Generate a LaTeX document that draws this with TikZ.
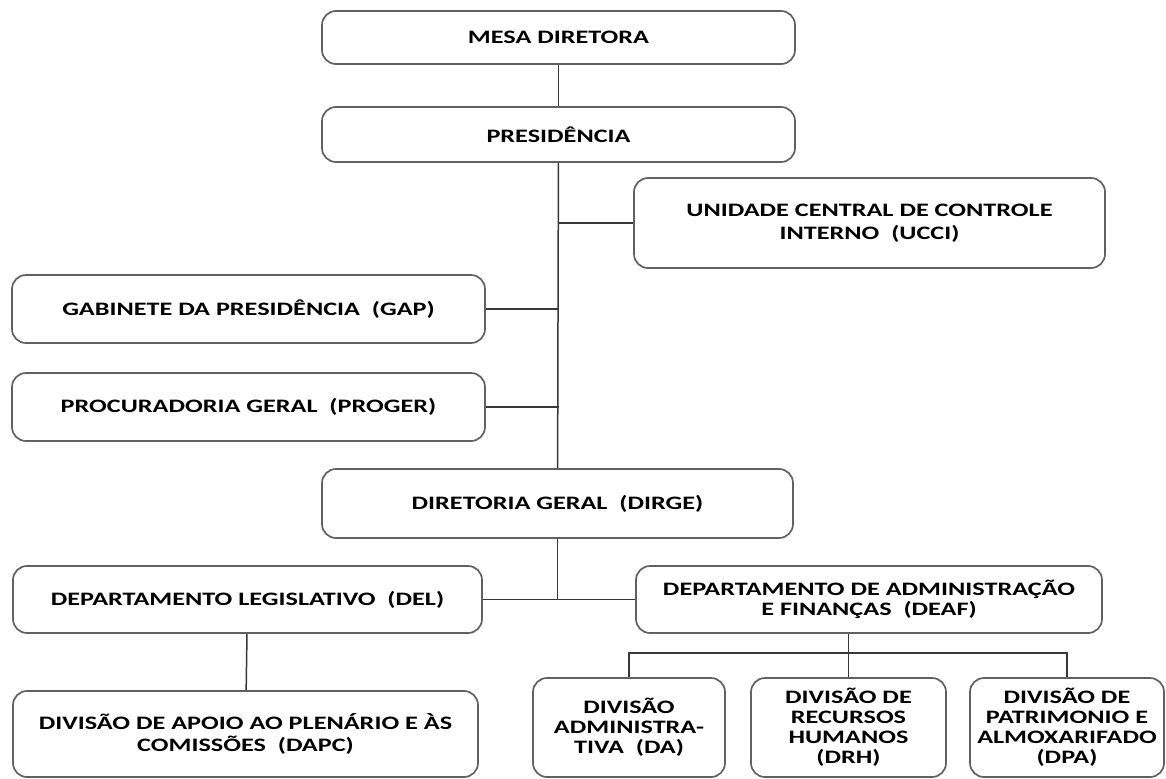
\documentclass[tikz,border=0pt]{standalone}
\usepackage{fontspec}
\setmainfont{Carlito}[FakeStretch=1.38]

\begin{document}
\begin{tikzpicture}[x=0.5pt, y=-0.5pt,
    unit/.style={draw=black!62, line width=0.85pt, rounded corners=7pt, fill=white,
                 align=center, inner sep=2pt, font=\fontsize{9.5}{10}\selectfont\bfseries},
    link/.style={draw=black!78, line width=0.75pt}]
    \useasboundingbox (0,0) rectangle (1166,778);

    % Top
    \node[unit, minimum width=236.5pt, minimum height=26.5pt] (mesa) at (558.5,37.5) {MESA DIRETORA};
    \node[unit, minimum width=236.5pt, minimum height=27.5pt] (pres) at (558.5,134.5) {PRESIDÊNCIA};

    % Staff units
    \node[unit, minimum width=235.5pt, minimum height=45pt] (ucci) at (869.5,223)
        {UNIDADE CENTRAL DE CONTROLE\\[1.5pt]INTERNO\ \ (UCCI)};
    \node[unit, minimum width=236.5pt, minimum height=34pt] (gap) at (248.5,309)
        {GABINETE DA PRESIDÊNCIA\ \ (GAP)};
    \node[unit, minimum width=236.5pt, minimum height=34pt] (proger) at (248.5,407)
        {PROCURADORIA GERAL\ \ (PROGER)};

    % Diretoria
    \node[unit, minimum width=235.5pt, minimum height=34.5pt] (dirge) at (557.5,503.5)
        {DIRETORIA GERAL\ \ (DIRGE)};
    \node[unit, minimum width=234.5pt, minimum height=33.5pt] (del) at (247.5,599.5)
        {DEPARTAMENTO LEGISLATIVO\ \ (DEL)};
    \node[unit, minimum width=233pt, minimum height=33.5pt] (deaf) at (869,599.5)
        {DEPARTAMENTO DE ADMINISTRAÇÃO\\E FINANÇAS\ \ (DEAF)};

    % Divisions
    \node[unit, minimum width=232.5pt, minimum height=43pt] (dapc) at (245.5,734)
        {DIVISÃO DE APOIO AO PLENÁRIO E ÀS\\[1pt]COMISSÕES\ \ (DAPC)};
    \node[unit, minimum width=96pt, minimum height=49.5pt] (da) at (629,727.5)
        {DIVISÃO\\ADMINISTRA-\\TIVA\ \ (DA)};
    \node[unit, minimum width=97.5pt, minimum height=49.5pt] (drh) at (848.5,727.5)
        {DIVISÃO DE\\RECURSOS\\HUMANOS\\(DRH)};
    \node[unit, minimum width=97pt, minimum height=49.5pt] (dpa) at (1067,727.5)
        {DIVISÃO DE\\PATRIMONIO E\\ALMOXARIFADO\\(DPA)};
    \coordinate (bus) at (848.5,653);

    % Links
    \draw[link] (mesa) -- (pres);
    \draw[link] (pres) -- (dirge);
    \draw[link] (ucci.west) -- (ucci.west -| pres.south);
    \draw[link] (gap.east) -- (gap.east -| pres.south);
    \draw[link] (proger.east) -- (proger.east -| pres.south);
    \draw[link] (dirge.south) -- (dirge.south |- del.east);
    \draw[link] (del.east) -- (deaf.west);
    \draw[link] (del) -- (dapc);
    \draw[link] (deaf.south -| bus) -- (bus) -- (drh);
    \draw[link] (da.north) |- (bus) -| (dpa.north);
\end{tikzpicture}
\end{document}
